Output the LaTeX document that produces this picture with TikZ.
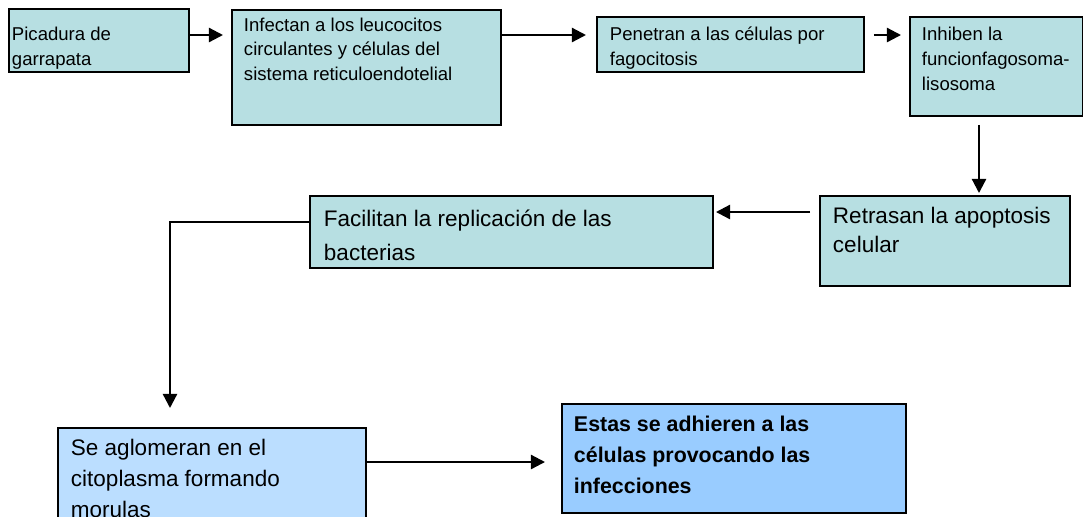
\documentclass[tikz,border=0pt]{standalone}
\usepackage{fontspec}
\setmainfont{Liberation Sans}
\usetikzlibrary{arrows.meta}

\newdimen\pxu
\pxu=0.025cm
% #1 width, #2 height, #3 top gap, #4 lines
\newcommand{\boxtext}[4]{\parbox[t][#2\pxu][t]{#1\pxu}{\vspace*{#3\pxu}\rule{0pt}{1em}#4}}

\definecolor{tealbox}{RGB}{183,223,226}
\definecolor{palebox}{RGB}{187,222,255}
\definecolor{bluebox}{RGB}{153,204,255}

\begin{document}
\begin{tikzpicture}[x=0.025cm,y=-0.025cm,
  box/.style={draw,line width=1.4pt,fill=tealbox,anchor=north west,inner ysep=0pt,inner xsep=12\pxu},
  small/.style={font=\fontsize{13.2}{17.6}\selectfont},
  big/.style={font=\fontsize{16}{#1}\selectfont},
  arr/.style={line width=1.6pt,-{Triangle[length=10pt,width=10pt]}}]
\clip (0,0) rectangle (1083,516);

\node[box,small,inner xsep=3\pxu] (picadura) at (8,8) {\boxtext{174}{63}{13}{Picadura de\\garrapata}};
\node[box,small] (infectan) at (231,9) {\boxtext{245}{115}{2.5}{Infectan a los leucocitos\\circulantes y células del\\sistema reticuloendotelial}};
\node[box,small,inner xsep=13\pxu] (penetran) at (596,16) {\boxtext{241}{55}{5}{Penetran a las células por\\fagocitosis}};
\node[box,small,font=\fontsize{13.2}{17.9}\selectfont] (inhiben) at (909,16) {\boxtext{149}{99}{5}{Inhiben la\\funcionfagosoma-\\lisosoma}};

\node[box,big=20.2pt,inner xsep=13\pxu] (retrasan) at (819,195) {\boxtext{224}{90}{5.5}{Retrasan la apoptosis\\celular}};
\node[box,big=23.5pt,inner xsep=14\pxu] (facilitan) at (309,195) {\boxtext{375}{72}{8.5}{Facilitan la replicación de las\\bacterias}};

\node[box,big=21.8pt,fill=palebox,inner xsep=13\pxu] (aglomeran) at (57,427) {\boxtext{282}{100}{5.5}{Se aglomeran en el\\citoplasma formando\\morulas}};
\node[box,fill=bluebox,font=\fontsize{15.2}{22}\selectfont\bfseries] (estas) at (561,403) {\boxtext{320}{109}{6.6}{Estas se adhieren a las\\células provocando las\\infecciones}};

\draw[arr,shorten >=8\pxu] ([yshift=-27\pxu]picadura.north east) coordinate (p1) -- (p1 -| infectan.west);
\draw[arr,shorten >=10\pxu] ([yshift=-26\pxu]infectan.north east) coordinate (p2) -- (p2 -| penetran.west);
\draw[arr,shorten >=8\pxu] ([xshift=9\pxu,yshift=-19\pxu]penetran.north east) coordinate (p3) -- (p3 -| inhiben.west);
\draw[arr,shorten >=2\pxu] ([xshift=70\pxu,yshift=-8\pxu]inhiben.south west) coordinate (p4) -- (p4 |- retrasan.north);
\draw[arr,shorten >=2\pxu] ([xshift=-9\pxu,yshift=-17\pxu]retrasan.north west) coordinate (p5) -- (p5 -| facilitan.east);
\draw[arr,shorten >=19\pxu] ([yshift=-27\pxu]facilitan.north west) -| ([xshift=113\pxu]aglomeran.north west);
\draw[arr,shorten >=16\pxu] ([yshift=-35\pxu]aglomeran.north east) coordinate (p6) -- (p6 -| estas.west);

\end{tikzpicture}
\end{document}
